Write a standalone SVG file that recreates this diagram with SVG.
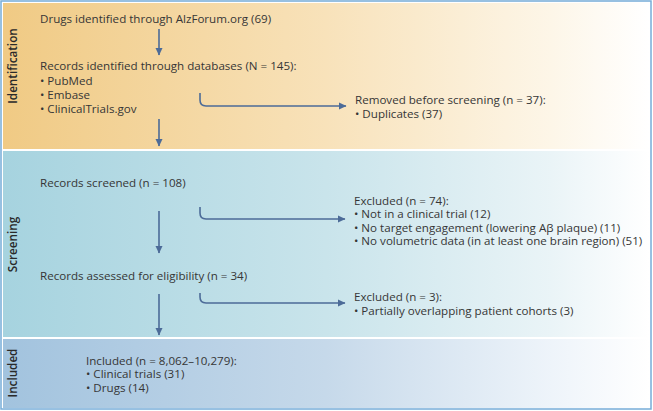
<svg xmlns="http://www.w3.org/2000/svg" width="653" height="411" viewBox="0 0 653 411">
  <defs>
    <linearGradient id="gId" x1="0" y1="0" x2="1" y2="0">
      <stop offset="0" stop-color="#f0ca84"/>
      <stop offset="0.5" stop-color="#f8e2ba"/>
      <stop offset="0.85" stop-color="#fdf6e8"/>
      <stop offset="1" stop-color="#ffffff"/>
    </linearGradient>
    <linearGradient id="gSc" x1="0" y1="0" x2="1" y2="0">
      <stop offset="0" stop-color="#a6d3df"/>
      <stop offset="0.5" stop-color="#c9e4eb"/>
      <stop offset="0.85" stop-color="#eaf4f7"/>
      <stop offset="1" stop-color="#ffffff"/>
    </linearGradient>
    <linearGradient id="gIn" x1="0" y1="0" x2="1" y2="0">
      <stop offset="0" stop-color="#a2c3de"/>
      <stop offset="0.5" stop-color="#c6d9ea"/>
      <stop offset="0.85" stop-color="#eef4fa"/>
      <stop offset="1" stop-color="#ffffff"/>
    </linearGradient>
    <marker id="ah" markerUnits="userSpaceOnUse" markerWidth="8" markerHeight="8" viewBox="0 0 8 8" refX="7" refY="4" orient="auto">
      <path d="M0,0.5 L7.5,4 L0,7.5 Z" fill="#4c6b98"/>
    </marker>
  </defs>
  <style>
    text { font-family: "Open Sans", "Noto Sans", "Liberation Sans", sans-serif; fill: #363636; font-size: 11.6px; }
    .band { font-size: 11.7px; font-weight: 600; fill: #2a2a2a; }
    .conn { fill: none; stroke: #4c6b98; stroke-width: 1.6; }
  </style>

  <rect x="1" y="1" width="650" height="408" fill="#ffffff" stroke="#76acd8" stroke-width="1.5"/>
  <rect x="3" y="3" width="646" height="146" fill="url(#gId)"/>
  <rect x="3" y="151" width="646" height="186" fill="url(#gSc)"/>
  <rect x="3" y="339" width="646" height="69" fill="url(#gIn)"/>

  <text class="band" transform="translate(17,66) rotate(-90)" text-anchor="middle">Identification</text>
  <text class="band" transform="translate(17,244.5) rotate(-90)" text-anchor="middle">Screening</text>
  <text class="band" transform="translate(17,373) rotate(-90)" text-anchor="middle">Included</text>

  <g id="n-drugs"><text x="40" y="22.5">Drugs identified through AlzForum.org (69)</text></g>
  <g id="n-records">
    <text x="40" y="70">Records identified through databases (N = 145):</text>
    <text x="40" y="84.5">• PubMed</text>
    <text x="40" y="98.5">• Embase</text>
    <text x="40" y="112.5">• ClinicalTrials.gov</text>
  </g>
  <g id="n-removed">
    <text x="355" y="103.5">Removed before screening (n = 37):</text>
    <text x="355" y="117.5">• Duplicates (37)</text>
  </g>
  <g id="n-screened"><text x="40" y="187">Records screened (n = 108)</text></g>
  <g id="n-excluded1">
    <text x="354" y="204.5">Excluded (n = 74):</text>
    <text x="354" y="218">• Not in a clinical trial (12)</text>
    <text x="354" y="231.5">• No target engagement (lowering Aβ plaque) (11)</text>
    <text x="354" y="245">• No volumetric data (in at least one brain region) (51)</text>
  </g>
  <g id="n-assessed"><text x="40" y="279.5">Records assessed for eligibility (n = 34)</text></g>
  <g id="n-excluded2">
    <text x="354" y="300.5">Excluded (n = 3):</text>
    <text x="354" y="314.5">• Partially overlapping patient cohorts (3)</text>
  </g>
  <g id="n-included">
    <text x="86" y="364.5">Included (n = 8,062–10,279):</text>
    <text x="86" y="378">• Clinical trials (31)</text>
    <text x="86" y="391.5">• Drugs (14)</text>
  </g>

  <g id="connectors">
    <path class="conn" d="M159,29 V55" marker-end="url(#ah)"/>
    <path class="conn" d="M159,119 V146" marker-end="url(#ah)"/>
    <path class="conn" d="M159,211 V253" marker-end="url(#ah)"/>
    <path class="conn" d="M159,294 V335" marker-end="url(#ah)"/>
    <path class="conn" d="M200,93 V100 Q200,106 206,106 H346" marker-end="url(#ah)"/>
    <path class="conn" d="M200,207 V213 Q200,219 206,219 H345" marker-end="url(#ah)"/>
    <path class="conn" d="M200,293 V297 Q200,303 206,303 H345" marker-end="url(#ah)"/>
  </g>
</svg>
